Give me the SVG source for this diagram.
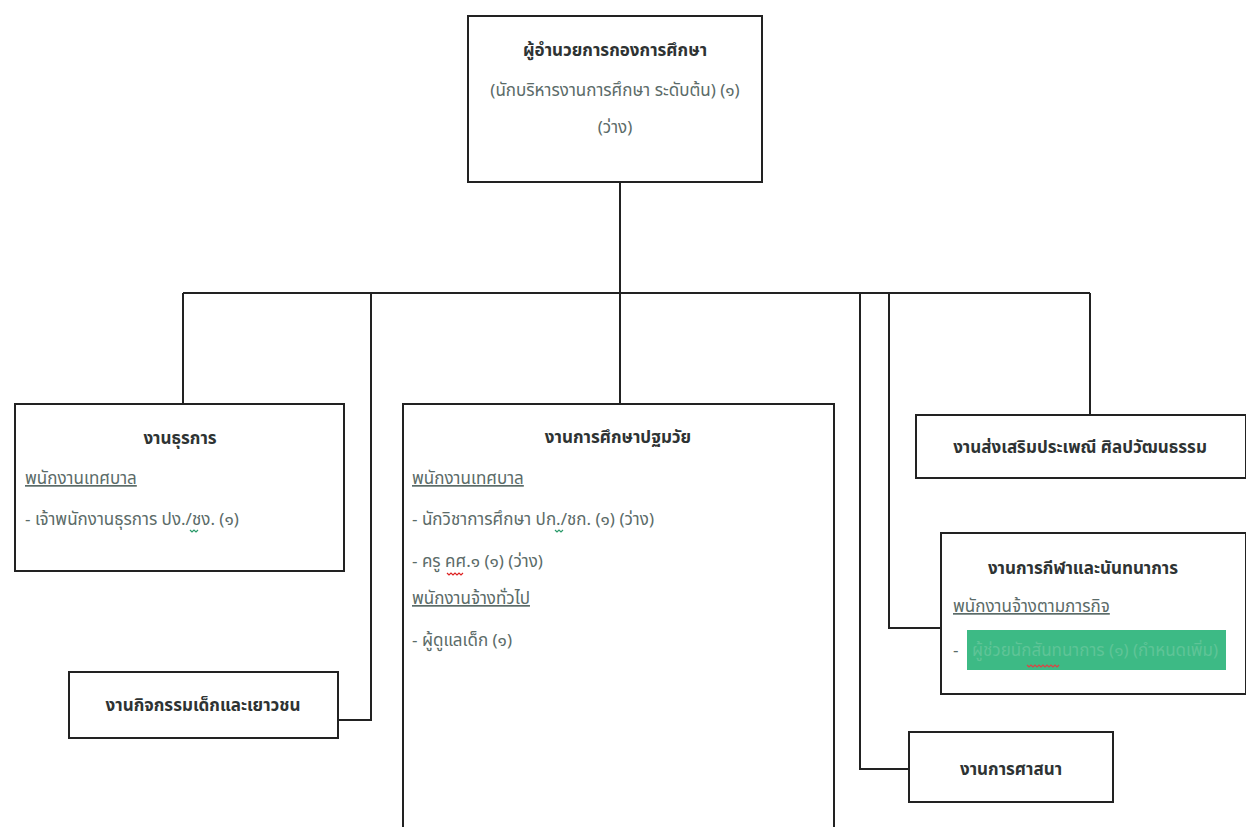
<svg xmlns="http://www.w3.org/2000/svg" width="1246" height="827" viewBox="0 0 1246 827">
<style>
.box{fill:#fff;stroke:#222;stroke-width:2}
.ln{fill:none;stroke:#222;stroke-width:2}
text{font-family:"Noto Sans Thai","Noto Sans","DejaVu Sans",sans-serif;font-size:17px}
.h{font-weight:bold;fill:#2e3333;text-anchor:middle}
.t{fill:#5b6b68}
.c{text-anchor:middle}
.u{text-decoration:underline}
.sq{fill:none;stroke-width:1.2}
</style>
<rect width="1246" height="827" fill="#fff"/>
<g id="connectors">
<path class="ln" d="M620 182 V403"/>
<path class="ln" d="M183 293 H1090"/>
<path class="ln" d="M183 293 V403"/>
<path class="ln" d="M371 293 V720 H338"/>
<path class="ln" d="M860 293 V769 H909"/>
<path class="ln" d="M889 293 V628 H941"/>
<path class="ln" d="M1090 293 V415"/>
</g>
<g id="director">
<rect class="box" x="468" y="16" width="294" height="166"/>
<text class="h" x="615" y="56">ผู้อำนวยการกองการศึกษา</text>
<text class="t c" x="615" y="96">(นักบริหารงานการศึกษา ระดับต้น) (๑)</text>
<text class="t c" x="615" y="133">(ว่าง)</text>
</g>
<g id="admin">
<rect class="box" x="15" y="404" width="329" height="167"/>
<text class="h" x="180" y="444">งานธุรการ</text>
<text class="t u" x="25" y="484">พนักงานเทศบาล</text>
<text class="t" x="25" y="525">- เจ้าพนักงานธุรการ ปง./ชง. (๑)</text>
<path class="sq" stroke="#2a9a6a" d="M190 530 l2 2 l2 -2 l2 2 l2 -2"/>
</g>
<g id="youth">
<rect class="box" x="69" y="672" width="269" height="66"/>
<text class="h" x="203" y="711">งานกิจกรรมเด็กและเยาวชน</text>
</g>
<g id="earlyed">
<rect class="box" x="403" y="404" width="431" height="430"/>
<text class="h" x="618" y="443">งานการศึกษาปฐมวัย</text>
<text class="t u" x="412" y="484">พนักงานเทศบาล</text>
<text class="t" x="412" y="525">- นักวิชาการศึกษา ปก./ชก. (๑) (ว่าง)</text>
<path class="sq" stroke="#2a9a6a" d="M555 530 l2 2 l2 -2 l2 2 l2 -2"/>
<text class="t" x="412" y="567">- ครู คศ.๑ (๑) (ว่าง)</text>
<path class="sq" stroke="#d22" d="M447 573 l2 2 l2 -2 l2 2 l2 -2 l2 2 l2 -2 l2 2 l2 -2"/>
<text class="t u" x="412" y="604">พนักงานจ้างทั่วไป</text>
<text class="t" x="412" y="646">- ผู้ดูแลเด็ก (๑)</text>
</g>
<g id="culture">
<rect class="box" x="916" y="415" width="330" height="63"/>
<text class="h" x="1080" y="453">งานส่งเสริมประเพณี ศิลปวัฒนธรรม</text>
</g>
<g id="sport">
<rect class="box" x="941" y="533" width="305" height="161"/>
<text class="h" x="1083" y="574">งานการกีฬาและนันทนาการ</text>
<text class="t u" x="953" y="612">พนักงานจ้างตามภารกิจ</text>
<text class="t" x="953" y="656">-</text>
<rect x="967" y="630" width="259" height="40" fill="#3dba85"/>
<text x="972" y="656" fill="#5fc497">ผู้ช่วยนักสันทนาการ (๑) (กำหนดเพิ่ม)</text>
<path class="sq" stroke="#d44" d="M1027 665 l2 2 l2 -2 l2 2 l2 -2 l2 2 l2 -2 l2 2 l2 -2 l2 2 l2 -2 l2 2 l2 -2 l2 2 l2 -2 l2 2 l2 -2"/>
</g>
<g id="religion">
<rect class="box" x="909" y="732" width="204" height="70"/>
<text class="h" x="1011" y="775">งานการศาสนา</text>
</g>
</svg>
